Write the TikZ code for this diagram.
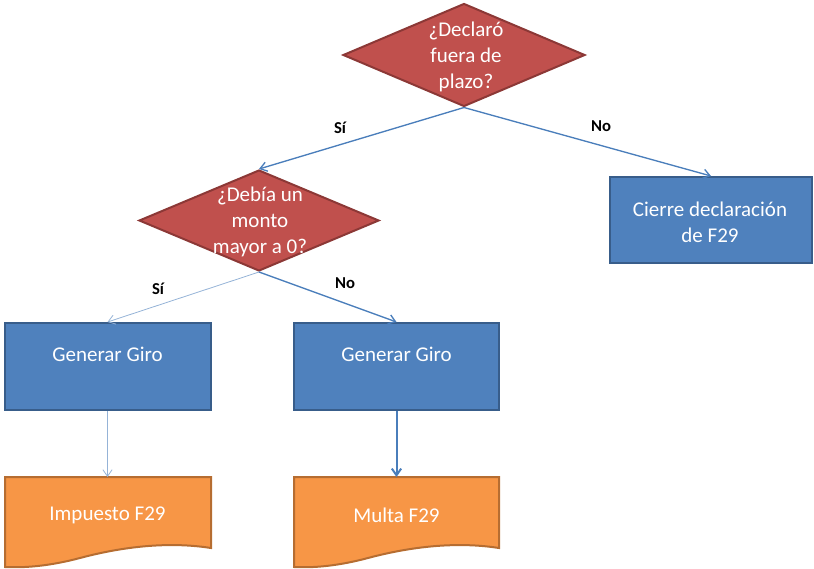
\documentclass[tikz,border=0pt]{standalone}
\usepackage{fontspec}
\setmainfont{Carlito}
\usetikzlibrary{shapes.geometric,arrows.meta}
\definecolor{redfill}{HTML}{C0504D}
\definecolor{redline}{HTML}{8C3836}
\definecolor{bluefill}{HTML}{4F81BD}
\definecolor{blueline}{HTML}{385D8A}
\definecolor{orfill}{HTML}{F79646}
\definecolor{orline}{HTML}{B66D31}
\definecolor{arrowc}{HTML}{4A7EBB}
\definecolor{arrowl}{HTML}{95B3D7}
\tikzset{
  decision/.style={diamond, draw=redline, fill=redfill, line width=1.5pt, inner sep=0pt, minimum width=#1*0.75pt},
  procbox/.style={rectangle, draw=blueline, fill=bluefill, line width=1.5pt, inner sep=0pt},
  doctext/.style={font=\fontsize{15.75}{19}\selectfont, text=white},
  boxtext/.style={font=\fontsize{15.75}{19.25}\selectfont, text=white, align=center},
  lbl/.style={font=\fontsize{12.5}{14}\selectfont\bfseries, text=black},
  conn/.style={draw=arrowc, line width=1pt, -{Straight Barb[length=5pt,width=7pt]}},
  connthin/.style={draw=arrowl, line width=0.6pt, -{Straight Barb[length=5pt,width=7pt]}},
}
\begin{document}
\begin{tikzpicture}[x=0.75pt,y=-0.75pt]
\useasboundingbox (0,0) rectangle (814,568);
% decisions
\node[decision=242, minimum height=77.25pt] (d1) at (464,55) {};
\node[boxtext] (t1) at (466,57) {¿Declaró\\fuera de\\plazo?};
\node[decision=240, minimum height=75.75pt] (d2) at (259,220.5) {};
\node[boxtext] (t2) at (260,222) {¿Debía un\\monto\\mayor a 0?};
% process boxes
\node[procbox, minimum width=151.5pt, minimum height=64.5pt] (c) at (711,220) {};
\node[boxtext] (ct) at (710,222) {Cierre declaración\\de F29};
\node[procbox, minimum width=154.5pt, minimum height=65.25pt] (g1) at (107.5,366.5) {};
\node[boxtext] (g1t) at (107.5,354) {Generar Giro};
\node[procbox, minimum width=153.75pt, minimum height=65.25pt] (g2) at (396.5,366.5) {};
\node[boxtext] (g2t) at (396.5,354) {Generar Giro};
% documents
\coordinate (i1) at (107.5,477);
\coordinate (m1) at (396.5,477);
\draw[draw=orline, fill=orfill, line width=1.5pt]
  (5,477) -- (211,477) -- (211,548)
  .. controls (160,540) and (110,550) .. (80,558)
  .. controls (50,566) and (25,568) .. (5,567) -- cycle;
\draw[draw=orline, fill=orfill, line width=1.5pt]
  (294,477) -- (499,477) -- (499,548)
  .. controls (448,540) and (398,550) .. (368,558)
  .. controls (338,566) and (314,568) .. (294,567) -- cycle;
\node[doctext] (it) at (107.5,515) {Impuesto F29};
\node[doctext] (mt) at (396.5,515) {Multa F29};
% connectors
\draw[conn] (d1.south) -- (d2.north);
\draw[conn] (d1.south) -- (c.north);
\draw[connthin] (d2.south) -- (g1.north);
\draw[conn] (d2.south) -- (g2.north);
\draw[connthin] (g1.south) -- (i1);
\draw[conn, line width=1.5pt] (g2.south) -- (m1);
% labels
\node[lbl] (l1) at (340,128) {Sí};
\node[lbl] (l2) at (601,126) {No};
\node[lbl] (l3) at (158,289) {Sí};
\node[lbl] (l4) at (345,283) {No};
\end{tikzpicture}
\end{document}
